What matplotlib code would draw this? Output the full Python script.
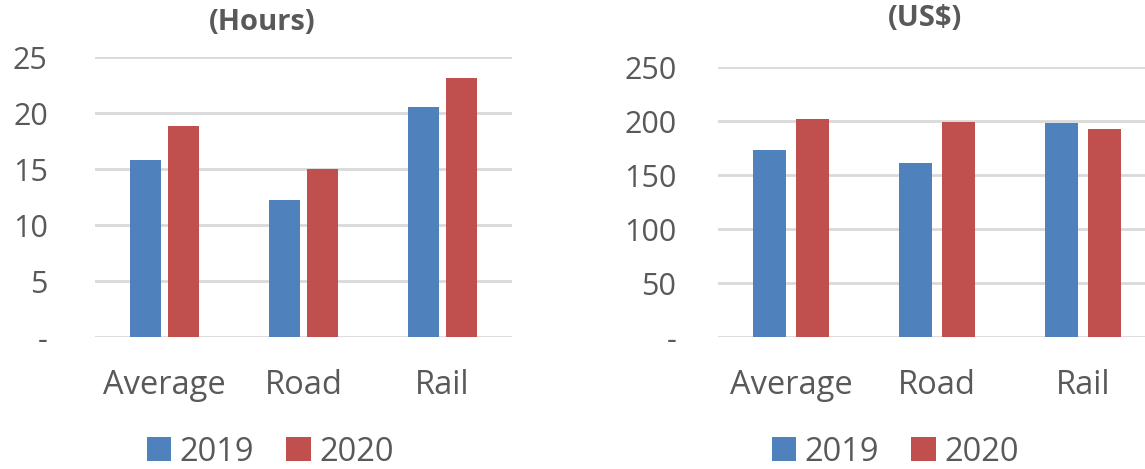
"""
Transit time (hours) and cost (US$) by mode, 2019 vs 2020
"""
import numpy as np
import matplotlib.pyplot as plt

# Data
modes = ['Average', 'Road', 'Rail']
years = ['2019', '2020']
hours_2019 = [15.8, 12.2, 20.5]
hours_2020 = [18.8, 15.0, 23.1]
cost_2019 = [173.5, 161.5, 198.0]
cost_2020 = [201.5, 199.5, 192.5]

hours_ticks = [0, 5, 10, 15, 20, 25]
hours_labels = ['-', '5', '10', '15', '20', '25']
cost_ticks = [0, 50, 100, 150, 200, 250]
cost_labels = ['-', '50', '100', '150', '200', '250']

blue = '#4F81BD'
red = '#C0504D'
grey_txt = '#595959'
grid_col = '#D9D9D9'

plt.rcParams['font.family'] = ['Open Sans', 'DejaVu Sans']

W, H = 1145, 469
fig = plt.figure(figsize=(W / 100, H / 100), dpi=100)


def px_axes(x0, x1, ytop, ybot):
    return fig.add_axes([x0 / W, (H - ybot) / H, (x1 - x0) / W, (ybot - ytop) / H])


def draw_panel(ax, v19, v20, ticks, labels, top, width, off, title, title_y, title_x):
    x = np.arange(len(modes))
    ax.bar(x - off, v19, width, color=blue, label=years[0], zorder=3)
    ax.bar(x + off, v20, width, color=red, label=years[1], zorder=3)
    ax.set_xlim(-0.5, len(modes) - 0.5)
    ax.set_ylim(0, top)
    ax.set_yticks(ticks)
    ax.set_yticklabels(labels)
    ax.set_xticks(x)
    ax.set_xticklabels(modes)
    ax.yaxis.grid(True, color=grid_col, linewidth=2, zorder=0)
    ax.set_axisbelow(True)
    for s in ax.spines.values():
        s.set_visible(False)
    ax.tick_params(axis='both', length=0, colors=grey_txt)
    ax.tick_params(axis='y', labelsize=22)
    ax.tick_params(axis='x', labelsize=23.5, pad=23)
    fig.text(title_x / W, 1 - title_y / H, title, ha='center', va='center',
             fontsize=21, fontweight='bold', color=grey_txt)


ax1 = px_axes(95, 512, 57, 337)
draw_panel(ax1, hours_2019, hours_2020, hours_ticks, hours_labels, 25, 0.223, 0.14,
           '(Hours)', 23, 262)
ax1.tick_params(axis='y', pad=34)

ax2 = px_axes(718, 1156, 67, 337)
draw_panel(ax2, cost_2019, cost_2020, cost_ticks, cost_labels, 250, 0.226, 0.147,
           '(US$)', 18, 925)
ax2.tick_params(axis='y', pad=30)

for ax, cx in [(ax1, 270), (ax2, 895)]:
    leg = ax.legend(loc='center', bbox_to_anchor=(cx / W, 1 - 452 / H),
                    bbox_transform=fig.transFigure, ncol=2, frameon=False,
                    fontsize=23.5, handlelength=0.75, handleheight=0.75,
                    handletextpad=0.25, columnspacing=1.0, labelcolor=grey_txt)

fig.savefig('out.png', dpi=100)
